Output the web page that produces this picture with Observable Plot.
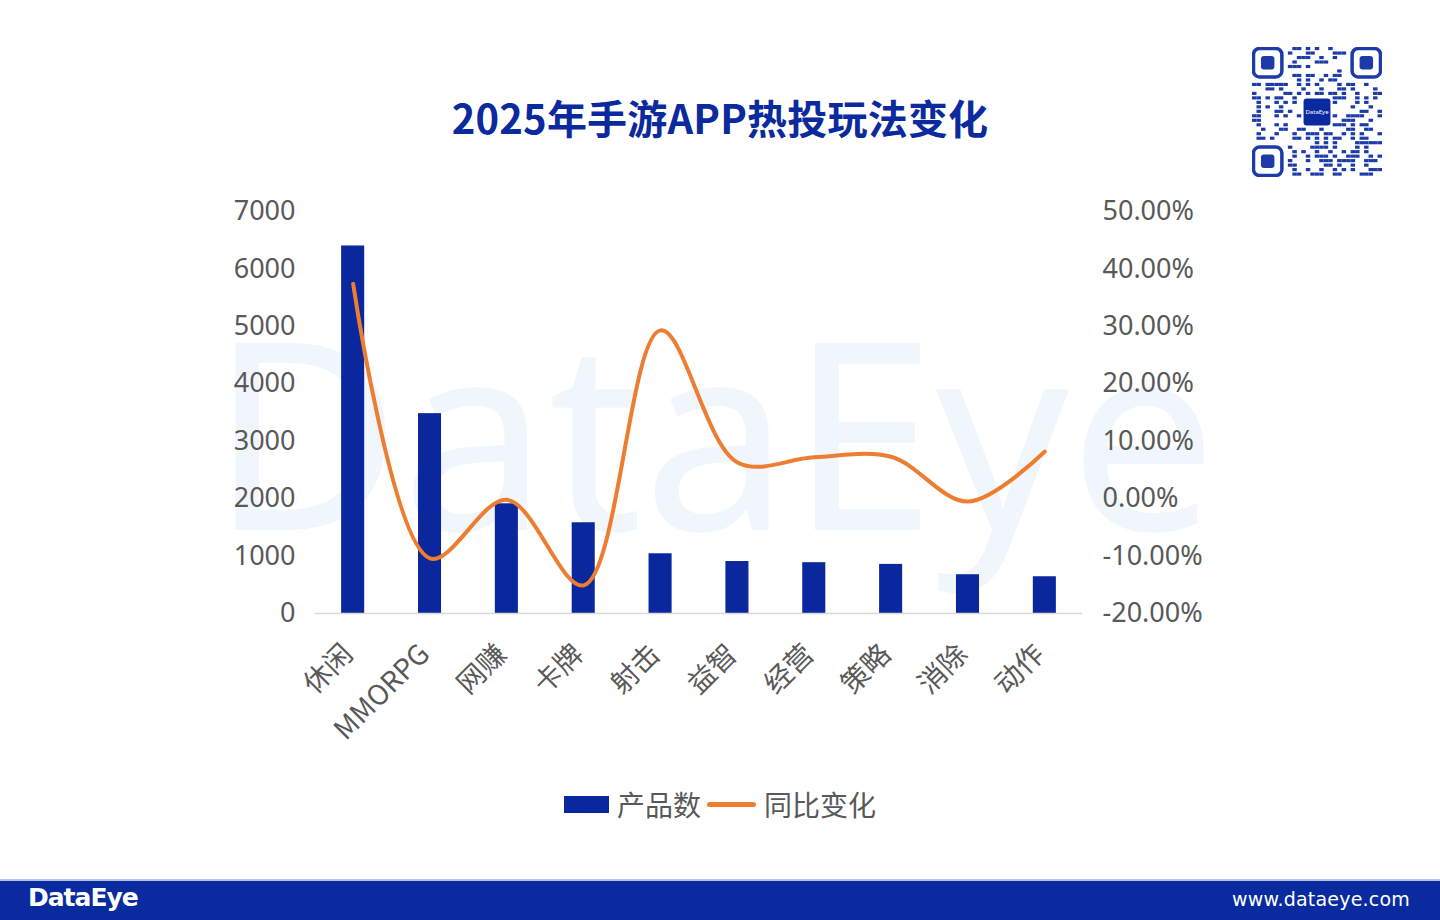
<!DOCTYPE html>
<html>
<head>
<meta charset="utf-8">
<script src="https://cdn.jsdelivr.net/npm/d3@7"></script>
<script src="https://cdn.jsdelivr.net/npm/@observablehq/plot@0.6"></script>
<style>
  html, body { margin: 0; padding: 0; background: #fff; }
  body { width: 1440px; height: 920px; position: relative; overflow: hidden; font-family: "Noto Sans", "Noto Sans CJK SC", sans-serif; }
  #title { position: absolute; left: 0; width: 1440px; top: 88px; text-align: center; font-family: "Noto Sans CJK SC", sans-serif; font-weight: 700; font-size: 40px; color: #0b2a9e; letter-spacing: 0.2px; }
  #watermark { position: absolute; left: 210px; top: 250px; font-family: "Noto Sans", sans-serif; font-size: 262px; color: #f0f6fc; letter-spacing: 0px; white-space: nowrap; z-index: 0; }
  #chart { position: absolute; left: 0; top: 160px; z-index: 1; }
  #legend { position: absolute; top: 784px; left: 564px; display: flex; align-items: center; font-family: "Noto Sans CJK SC", sans-serif; font-size: 28px; color: #595959; z-index: 2; }
  .sw-bar { width: 45px; height: 17px; background: #0a279e; margin-right: 8px; }
  .sw-line { width: 49px; height: 5px; border-radius: 3px; background: #ed7d31; margin: 0 8px 0 6px; }
  #footer { position: absolute; left: 0; top: 879px; width: 1440px; height: 41px; background: #0a2aa0; border-top: 2px solid #b8c2e6; box-sizing: border-box; }
  #logo { position: absolute; left: 28px; top: 2px; color: #fff; font-family: "DejaVu Sans", sans-serif; font-weight: 700; font-size: 25px; letter-spacing: -1px; }
  #url { position: absolute; right: 30px; top: 7px; color: #fff; font-family: "DejaVu Sans", sans-serif; font-size: 19px; letter-spacing: 0.2px; }
  #qr { position: absolute; left: 1252px; top: 47px; }
</style>
</head>
<body>
<div id="watermark">DataEye</div>
<div id="title">2025年手游APP热投玩法变化</div>
<svg id="qr" width="130" height="130"></svg>
<div id="chart"></div>
<div id="legend"><div class="sw-bar"></div><span>产品数</span><div class="sw-line"></div><span>同比变化</span></div>
<div id="footer"><div id="logo">DataEye</div><div id="url">www.dataeye.com</div></div>
<script>
// ---- data ----
const categories = ["休闲", "MMORPG", "网赚", "卡牌", "射击", "益智", "经营", "策略", "消除", "动作"];
const productCounts = [6400, 3480, 1910, 1580, 1040, 905, 885, 855, 675, 640];
const yoyChange = [37.4, -10.4, -0.2, -15.1, 29.3, 6.3, 7.2, 7.3, -0.5, 8.2]; // percent
const leftTicks = [0, 1000, 2000, 3000, 4000, 5000, 6000, 7000];
const rightTicks = [-20, -10, 0, 10, 20, 30, 40, 50];

// right axis (percent) mapped onto the left scale: -20% -> 0, 50% -> 7000
const pctToLeft = p => (p + 20) * 100;
const leftToPct = v => v / 100 - 20;

const rows = categories.map((c, i) => ({cat: c, count: productCounts[i], pct: yoyChange[i], pctY: pctToLeft(yoyChange[i])}));

const chart = Plot.plot({
  width: 1440,
  height: 600,
  marginTop: 51,
  marginBottom: 147,
  marginLeft: 315,
  marginRight: 358,
  style: {fontFamily: '"Noto Sans", "Noto Sans CJK SC", sans-serif', fontSize: "27px", color: "#595959", background: "transparent", overflow: "visible"},
  x: {domain: categories, paddingInner: 0.7, paddingOuter: 0.34, round: false, axis: null},
  y: {domain: [0, 7000], axis: null},
  marks: [
    Plot.barY(rows, {x: "cat", y: "count", fill: "#0a279e"}),
    Plot.ruleY([0], {stroke: "#d9d9d9", strokeWidth: 1.5}),
    Plot.line(rows, {x: "cat", y: "pctY", stroke: "#ed7d31", strokeWidth: 4, curve: "catmull-rom"}),
    Plot.axisY({anchor: "left", ticks: leftTicks, tickSize: 0, tickPadding: 20, tickFormat: d => String(d), label: null}),
    Plot.axisY({anchor: "right", ticks: rightTicks.map(pctToLeft), tickSize: 0, tickPadding: 20, tickFormat: v => leftToPct(v).toFixed(2) + "%", label: null}),
    Plot.axisX({domain: categories, tickSize: 0, tickPadding: 36, tickRotate: -45, dx: -5, fontSize: 28, label: null, fontFamily: '"Noto Sans CJK SC", sans-serif'})
  ]
});
document.getElementById("chart").appendChild(chart);

// ---- decorative QR-like badge ----
(function () {
  const svg = d3.select("#qr");
  const n = 29, cell = 130 / n;
  const col = "#1c3aa8";
  const inFinder = (r, c) => (r < 8 && c < 8) || (r < 8 && c >= n - 8) || (r >= n - 8 && c < 8);
  const inLogo = (r, c) => r >= 11 && r <= 17 && c >= 11 && c <= 17;
  let s = 12345;
  for (let r = 0; r < n; r++) {
    for (let c = 0; c < n; c++) {
      s = (s * 1103515245 + 12345) & 0x7fffffff;
      if (inFinder(r, c) || inLogo(r, c)) continue;
      if ((s >> 16) % 100 < 40) {
        svg.append("rect").attr("x", c * cell).attr("y", r * cell).attr("width", cell).attr("height", cell * 0.7).attr("fill", col);
      }
    }
  }
  const finder = (x, y) => {
    svg.append("rect").attr("x", x + 1.5).attr("y", y + 1.5).attr("width", 7 * cell - 3).attr("height", 7 * cell - 3).attr("rx", 6).attr("fill", "none").attr("stroke", col).attr("stroke-width", 3.5);
    svg.append("rect").attr("x", x + 2 * cell).attr("y", y + 2 * cell).attr("width", 3 * cell).attr("height", 3 * cell).attr("rx", 3).attr("fill", col);
  };
  finder(0, 0); finder((n - 7) * cell, 0); finder(0, (n - 7) * cell);
  svg.append("rect").attr("x", 11.5 * cell).attr("y", 11.5 * cell).attr("width", 6 * cell).attr("height", 6 * cell).attr("rx", 3).attr("fill", "#0a2aa0");
  svg.append("text").attr("x", 14.5 * cell).attr("y", 14.5 * cell).attr("dy", "0.35em").attr("text-anchor", "middle").attr("font-size", 6).attr("fill", "#fff").text("DataEye");
})();
</script>
</body>
</html>
